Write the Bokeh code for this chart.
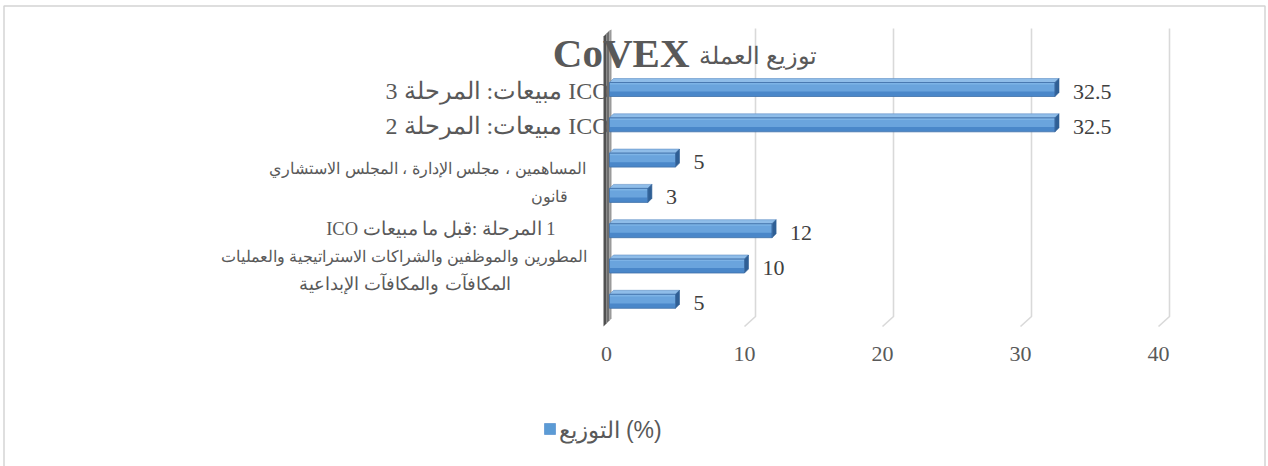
from bokeh.plotting import figure
from bokeh.models import Range1d, ColumnDataSource
from bokeh.embed import file_html
from bokeh.resources import INLINE
from bokeh.core.properties import value

# ---------------- data ----------------
categories = [
    "ICO مبيعات: المرحلة 3",
    "ICO مبيعات: المرحلة 2",
    "المساهمين ، مجلس الإدارة ، المجلس الاستشاري",
    "قانون",
    "ICO مبيعات ما قبل: المرحلة 1",
    "المطورين والموظفين والشراكات الاستراتيجية والعمليات",
    "المكافآت والمكافآت الإبداعية",
]
values = [32.5, 32.5, 5, 3, 12, 10, 5]
x_ticks = [0, 10, 20, 30, 40]
title_latin = "CoVEX"
title_arabic = "توزيع العملة"
series_name = "التوزيع (%)"

# ---------------- layout helpers (pixels -> data units) ----------------
W, H = 1268, 466
PX0, SX = 606.0, 13.8     # pixel of value 0, pixels per unit
PY0, SY = 89.0, 35.3      # pixel of first row centre, pixels per row


def xd(px):
    return (px - PX0) / SX


def yd(px):
    return (px - PY0) / SY


def dxu(px):
    return px / SX


def dyu(px):
    return px / SY


RLE, PDF, LRM = "\u202b", "\u202c", "\u200e"

p = figure(width=W, height=H, output_backend="svg", toolbar_location=None,
           x_range=Range1d(xd(0), xd(W)), y_range=Range1d(yd(H), yd(0)),
           x_axis_location=None, y_axis_location=None,
           min_border_left=0, min_border_right=0, min_border_top=0,
           min_border_bottom=0)
p.grid.visible = False
p.outline_line_color = None
p.background_fill_color = "white"
p.border_fill_color = "white"

TXT = "#595959"
rows = list(range(len(categories)))

# ---------------- chart-area border (left, top, right) ----------------
p.line([xd(3.5), xd(3.5), xd(1264.5), xd(1264.5)],
       [yd(470), yd(5.5), yd(5.5), yd(470)], line_color="#d4d4d4",
       line_width=1.5)

# ---------------- back-wall gridlines (3D) ----------------
GDX = 11      # depth offset in px
top_px, floor_back_px, floor_front_px = 28, 316, 326
gx, gy = [], []
for t in x_ticks[1:]:
    gx.append([t + dxu(GDX), t + dxu(GDX), t])
    gy.append([yd(top_px), yd(floor_back_px), yd(floor_front_px)])
p.multi_line(gx, gy, line_color="#d9d9d9", line_width=1.6)

# ---------------- category labels ----------------
label_right_px = [609, 609, 585, 567, 555, 586, 510]
label_cy_px = [90, 125, 167, 196, 228, 256, 283]
label_sizes = ["24px", "24px", "16.3px", "15.5px", "18.5px", "16px", "18px"]
label_fonts = ["Liberation Serif", "Liberation Serif", "Liberation Sans",
               "Liberation Sans", "Liberation Serif", "Liberation Sans",
               "Liberation Sans"]
# bidi handling of the mixed Latin/Arabic labels, as drawn in the source
label_texts = []
for c in categories:
    if c.startswith("ICO مبيعات:"):
        label_texts.append(RLE + c + PDF)          # right-to-left run
    elif c.startswith("ICO"):
        label_texts.append(c.replace(" ", " " + LRM))  # word-by-word LTR
    else:
        label_texts.append(c)
for i, c in enumerate(label_texts):
    p.text(x=[xd(label_right_px[i])], y=[yd(label_cy_px[i])], text=[c],
           text_align="right", text_baseline="middle",
           text_font=value(label_fonts[i]), text_font_size=label_sizes[i],
           text_color=TXT)

# ---------------- left wall ----------------
p.patch([xd(603), xd(606), xd(606), xd(603)],
        [yd(36), yd(33), yd(323), yd(326)], fill_color="#505050", line_color=None)
p.patch([xd(606), xd(609), xd(609), xd(606)],
        [yd(33), yd(30), yd(320), yd(323)], fill_color="#6e6e6e", line_color=None)
p.patch([xd(609), xd(611), xd(611), xd(609)],
        [yd(30), yd(29), yd(318), yd(320)], fill_color="#9a9a9a", line_color=None)

# ---------------- bars (3D) ----------------
HALF = dyu(7)
DX, DY = dxu(4), dyu(4)
x0 = xd(609)
top_xs, top_ys, side_xs, side_ys = [], [], [], []
for r, v in zip(rows, values):
    ytop, ybot = r - HALF, r + HALF
    top_xs.append([x0, x0 + DX, v + DX, v])
    top_ys.append([ytop, ytop - DY, ytop - DY, ytop])
    side_xs.append([v, v + DX, v + DX, v])
    side_ys.append([ytop, ytop - DY, ybot - DY, ybot])

src = ColumnDataSource(dict(y=rows, v=values, left=[x0] * len(values)))
p.hbar(y="y", left="left", right="v", height=2 * HALF, source=src,
       fill_color="#4a87c9", line_color=None)
p.hbar(y=[r - HALF * 0.35 for r in rows], left=x0, right=values,
       height=HALF * 1.3, fill_color="#6aa4dd", line_color=None)
p.hbar(y=[r - HALF * 0.85 for r in rows], left=x0, right=values,
       height=HALF * 0.3, fill_color="#7db3e6", line_color=None)
p.patches(top_xs, top_ys, fill_color="#8fbde9", line_color="#5f8fc4",
          line_width=0.6)
p.patches(side_xs, side_ys, fill_color="#2f5f95", line_color="#2f5f95",
          line_width=0.6)
p.hbar(y="y", left="left", right="v", height=2 * HALF, source=src,
       fill_color=None, line_color="#3f70a8", line_width=0.8)

# ---------------- data labels ----------------
p.text(x=[v + dxu(18) for v in values], y=[r + dyu(2) for r in rows],
       text=[("%g" % v) for v in values], text_align="left",
       text_baseline="middle", text_font=value("Liberation Serif"),
       text_font_size="22px", text_color="#404040")

# ---------------- x tick labels ----------------
p.text(x=x_ticks, y=[yd(353)] * len(x_ticks), text=[str(t) for t in x_ticks],
       text_align="center", text_baseline="middle",
       text_font=value("Liberation Serif"), text_font_size="22px",
       text_color=TXT)

# ---------------- title ----------------
p.text(x=[xd(689)], y=[yd(52)], text=[title_latin], text_align="right",
       text_baseline="middle", text_font=value("Liberation Serif"),
       text_font_style="bold", text_font_size="41px", text_color=TXT)
p.text(x=[xd(698)], y=[yd(55)], text=[title_arabic], text_align="left",
       text_baseline="middle", text_font=value("Liberation Sans"),
       text_font_size="24px", text_color=TXT)

# ---------------- legend ----------------
p.quad(left=[xd(544)], right=[xd(555)], top=[yd(423)], bottom=[yd(434)],
       fill_color="#5b9bd5", line_color="#4a87c9", line_width=0.6)
p.text(x=[xd(558)], y=[yd(429)], text=[series_name], text_align="left",
       text_baseline="middle", text_font=value("Liberation Sans"),
       text_font_size="23px", text_color=TXT)

open("out.html", "w").write(file_html(p, INLINE))
